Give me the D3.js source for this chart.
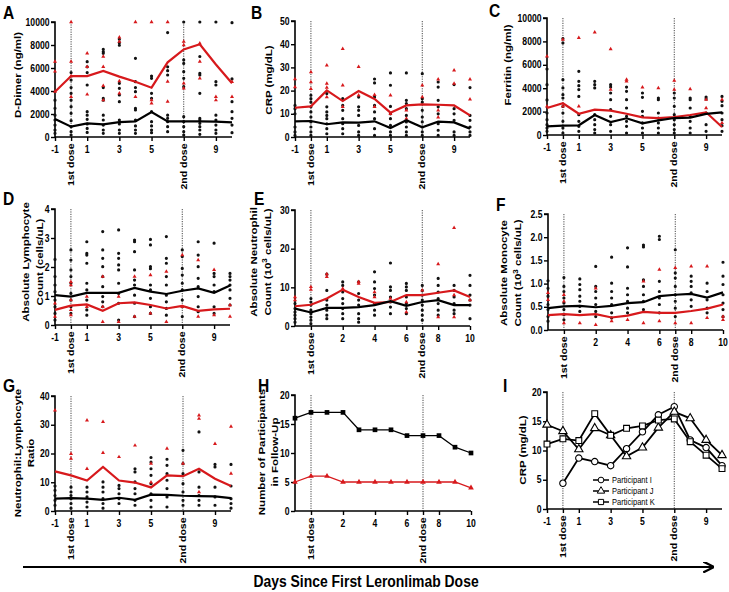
<!DOCTYPE html>
<html><head><meta charset="utf-8">
<script src="https://cdn.jsdelivr.net/npm/d3@7"></script>
<style>
body{margin:0;background:#fff;}
svg{display:block;font-family:"Liberation Sans",Arial,sans-serif;}
</style></head><body>
<svg id="chart" width="729" height="592"></svg>
<script>
const days = [-1,0,1,2,3,4,5,6,7,8,9,10];
const ticksOdd = [-1,0,1,3,5,7,9];
const tickLabelsOdd = ["-1","1st dose","1","3","5","2nd dose","9"];
const ticksEven = [0,2,4,6,7,8,10];
const tickLabelsEven = ["1st dose","2","4","6","2nd dose","8","10"];

// A: D-Dimer
const aBlackMean = [1570,900,1190,1100,1300,1360,2170,1360,1360,1360,1330,1280];
const aRedMean = [3940,5300,5300,5740,5250,4800,4290,6490,7620,8060,6300,4670];
const aBlackPts = [
 [3200,2500,1900,1480,1040,610,320],
 [5600,4950,4300,3800,3200,2640,2060,1420,900,460,170],
 [6550,6100,5600,4520,2200,1900,1540,1130,750,400],
 [7630,7420,7280,4300,3360,3200,1900,1480,1040,610,320],
 [8500,8200,7980,4670,4230,3650,3070,1480,1130,610,320],
 [6840,4810,4300,3940,2500,2350,1480,960,610,320],
 [5300,5100,3800,3360,2200,1330,960,610,380],
 [9080,6100,5770,5390,1900,1620,1330,900,460],
 [10000,6700,6400,5680,5100,4380,1770,1330,900,460,170],
 [10000,7000,5540,5390,3800,1620,1480,1190,900,610,230],
 [10000,4810,4520,1900,1480,1040,610,320],
 [9940,5050,3070,2200,1620,1040,380]];
const aRedPts = [
 [6550,5700,3940],[10000,6550,5300,3500],[7280,6100,3700],[7000,6100,4440,3200],
 [8670,8300,4870,3800],[10000,3500],[10000,3200,2930],[10000,4810,3070],
 [8300,8000,4670,4230],[8150,6550,5100],[3500,3200],[3500,4800]];

// B: CRP
const bBlackMean = [6.75,6.9,5.5,6.3,6.2,6.75,3.9,7.2,4.2,6.6,6.3,3.6];
const bRedMean = [12.6,13.2,20.1,15.5,19.8,16.4,10.5,13.6,14.1,13.9,13.6,9.3];
const bBlackPts = [
 [13.6,12.2,10,4.3,2.2,0.7],
 [18,16.5,15,13,10.8,8.6,6.5,4.3,2.2,0.7],
 [18.7,13,10.8,9.3,7.9,5.7,3.6,1.4],
 [16.5,13.6,11.5,7.9,5.7,3.6,1.4],
 [17.2,13,11.5,9.3,5,2.2,0.7],
 [25,23.3,17.2,13.6,10.8,7.9,3.6,0.7],
 [27.6,22.3,13.2,10,7.9,5,2.2,0.7],
 [27.6,15.8,14.4,12.2,9.3,6.5,4.3,2.2,0.7],
 [27.3,16.5,15,11.5,8.6,6.5,4.3,2.2,0.7],
 [23.7,21.5,15.8,13,10,5.7,2.9,0.7],
 [22.6,12.2,10,7.2,2.2,0.7],
 [21.3,9.3,7.2,4.3,2.2,0.7]];
const bRedPts = [
 [25,21.5],[28,23.7,20.8],[30.9,23,21.3,17.2],[38,22.3,13],[30.2,18],[18.2,13],
 [18,10],[11.5,7.9],[22.3,17.2],[24.9,11.5,8.5],[28.7,23],[24.9,16.2]];

// C: Ferritin
const cBlackMean = [740,800,830,1710,1110,1430,1000,1250,1450,1480,1800,1940];
const cRedMean = [2310,2710,1820,2170,2080,1820,1510,1450,1540,1710,1940,680];
const cBlackPts = [
 [5640,4300,3000,1880,1310,880,600,310],
 [8240,7870,4730,4020,3450,3160,2450,1880,1170,600,170],
 [5440,4590,4220,3880,3300,1740,1170,740,310],
 [4590,4300,4020,1740,1310,880,460,170],
 [4300,4100,3590,3020,2170,1600,880,310],
 [4100,3730,3020,2310,1600,1170,740,170],
 [3590,3220,2020,1600,1030,600,170],
 [3160,3020,1880,1450,1030,600,170],
 [3590,3160,2450,1740,1310,880,460,170],
 [3160,3020,2310,1600,1170,600,170],
 [3250,3080,1880,880,310],
 [3300,2880,2510,1880,1310,800,310]];
const cRedPts = [
 [6730,2450],[8150,2450],[8300,2450],[8780],[7350,3880],[4730,4590],
 [4080],[4020],[4650,3880],[3930],[3020,2300],[3020,1030]];

// D: Lymphocyte
const dBlackMean = [1.03,0.98,1.11,1.11,1.11,1.28,1.15,1.07,1.18,1.26,1.11,1.36];
const dRedMean = [0.52,0.67,0.71,0.49,0.75,0.78,0.69,0.57,0.66,0.49,0.54,0.56];
const dBlackPts = [
 [2.26,1.67,1.38,1.15,0.86,0.63,0.4,0.17],
 [2.59,2.24,1.9,1.67,1.44,1.09,0.86,0.63,0.4],
 [2.87,2.47,2.41,2.13,1.44,1.21,0.86,0.52,0.34],
 [3.22,2.59,2.3,2.01,1.67,1.32,0.98,0.8,0.63],
 [3.28,2.47,2.3,2.07,1.9,1.44,1.09,0.75,0.17],
 [2.93,2.87,2.53,1.9,1.55,1.38,1.03,0.75,0.29],
 [2.95,2.76,2.01,1.94,1.38,1.21,0.92,0.63,0.4],
 [3.05,2.3,2.13,1.67,1.38,1.03,0.8,0.57,0.34],
 [2.59,2.36,1.95,1.72,1.44,1.21,0.86,0.63,0.29],
 [2.87,2.41,2.01,1.61,1.32,0.98,0.63,0.46],
 [2.82,1.78,1.67,1.38,1.15,0.63,0.4],
 [1.78,1.67,1.55,1.38,1.21,0.92,0.69]];
const dRedPts = [
 [0.75,0.29],[1.49,1.38,0.86,0.52,0.34],[0.98,0.63],[1.67,0.63,0.11],[0.98,0.11],[1.67,0.29],
 [1.72,0.4],[1.84,0.11],[2.41,0.63],[2.24,0.29],[1.9,0.34],[0.69,0.29]];

// E: Neutrophil
const eBlackMean = [4.5,3.5,4.7,4.7,4.9,5.4,6.4,5.2,6.2,6.7,5.4,5.4];
const eRedMean = [5.1,5.5,7.1,9.4,7.5,6.0,6.2,8.0,8.0,8.6,9.2,7.5];
const eBlackPts = [
 [5.8,4.5,3.6,2.8,1.9,1.0],
 [7.1,6.2,5.4,4.1,3.2,2.3,1.5,0.6],
 [13.4,9.2,6.7,5.4,4.1,2.8,1.9],
 [11.4,10.5,8.8,7.1,5.8,4.5,3.2,1.9],
 [11.4,8.4,6.7,5.4,3.2,1.9,1.0],
 [14,11.4,9.7,8,5.8,4.1,2.8],
 [16.3,10.1,9.2,7.5,6.2,4.9,3.2],
 [11,10.1,9.2,7.5,5.8,4.5,3.2],
 [10.5,9.2,8,6.7,5.4,4.1,2.8,1.5],
 [12.3,10.5,8.8,7.1,5.8,4.1,2.8],
 [10.5,9.2,7.5,5.8,4.1,3.2],
 [13.1,10.5,8,6.7,5.4,1.9]];
const eRedPts = [
 [7.5,6.7],[10.1,9.4],[13.4,12.7],[9.7],[11.4,11],[8.8,7.5],[7.1],[6.2,3.6],
 [9.2],[16,2.3],[25.4,8,2.3],[6.7]];

// F: Monocyte
const fBlackMean = [0.47,0.51,0.52,0.49,0.52,0.58,0.6,0.73,0.76,0.78,0.7,0.81];
const fRedMean = [0.32,0.34,0.32,0.34,0.27,0.31,0.39,0.37,0.37,0.41,0.46,0.55];
const fBlackPts = [
 [1.06,0.9,0.73,0.55,0.44,0.29,0.19],
 [1.13,0.94,0.83,0.69,0.58,0.44,0.33,0.22],
 [1.1,0.98,0.87,0.73,0.62,0.51,0.4],
 [1.37,0.94,0.83,0.69,0.55,0.4,0.29],
 [1.57,1.01,0.83,0.69,0.55,0.37,0.26],
 [1.77,1.36,0.9,0.76,0.62,0.47,0.37],
 [1.83,1.79,1.08,0.94,0.76,0.62,0.44],
 [2.02,1.95,1.05,0.83,0.69,0.55,0.37],
 [1.73,1.23,1.12,0.94,0.76,0.62,0.47,0.29],
 [1.16,1.05,0.94,0.8,0.65,0.51],
 [1.01,0.83,0.65,0.47,0.37],
 [1.46,1.16,0.98,0.76,0.58,0.44,0.29]];
const fRedPts = [
 [0.8,0.65],[0.76,0.62,0.15],[0.15],[0.9,0.11],[0.19],[0.22],[1.05,0.15],[1.3,0.19],
 [1.34,0.15],[1.37,0.15],[1.37,0.26],[0.29,0.22]];

// G: N:L ratio
const gBlackMean = [4.3,4.5,4.3,3.9,4.6,3.9,5.7,5.6,5.3,5.2,5.1,4.5];
const gRedMean = [13.8,12.4,10.6,15.3,10.6,9.9,8.2,12.4,12.1,14.7,11.2,8.7];
const gBlackPts = [
 [8.7,7.2,5.4,3.7,2.0],
 [8.3,6.6,5.4,4.3,2.6,1],
 [8.3,6.6,4.9,3.1,1.4],
 [10.1,8.3,6.6,4.3,2.6,1],
 [8.9,7.8,6,4.3,2.6],
 [14.7,13.6,10.1,7.8,6,3.7,2],
 [18.6,17,14.7,12.4,9.5,6,3.7,1.4],
 [18,15.9,13,10.7,7.8,4.9,1.4],
 [21.1,16.5,13,9.5,6.6,3.7,2],
 [27.5,13.6,8.3,5.4,3.7,2],
 [16.2,15.3,8.3,4.9,2],
 [16.2,8.7,4.3,2.6,1]];
const gRedPts = [
 [35],[19.9,18.2],[31.5,14.7],[31,20.2],[18.8],[22.8],[16.5,10],[21.7],
 [16.5],[33.3,32.1,6.6],[23.4],[29.4,13]];

// H: participants in follow-up
const hBlack = [16,17,17,17,14,14,14,13,13,13,11,10];
const hRed = [5,6,6,5,5,5,5,5,5,5,5,4];

// I: CRP per participant
const iDaysI = [0,1,2,3,4,5,6,7,8,9,10];
const iPartI = [4.4,8.7,8.1,7.4,10.3,13.2,16.1,17.5,11.8,10.5,7.4];
const iPartJ = [14.4,13.3,10.2,13.8,12.6,9.0,10.5,13.9,16.6,15.5,11.8,9.2];
const iPartK = [11.1,12.0,11.7,16.3,12.6,13.8,14.2,15.2,15.4,11.5,9.2,6.9];
const iLegend = ["Participant I","Participant J","Participant K"];

const RED = "#d7191c";
const SX = 0.82; // horizontal compression of the reference typography
const svg = d3.select("#chart");

function htext(g,x,y,str,size,anchor,weight){
  return g.append("text").attr("transform",`translate(${x},${y}) scale(${SX},1)`)
    .attr("text-anchor",anchor||"start").attr("font-size",size).attr("font-weight",weight||"bold").text(str);
}

function panel(o){
  const g = svg.append("g");
  const x = d3.scaleLinear().domain([-1,10]).range([o.x0,o.x1]);
  const y = d3.scaleLinear().domain([0,o.ymax]).range([o.y1,o.y0]);
  [0,7].forEach(d=>{
    g.append("line").attr("x1",x(d)).attr("x2",x(d)).attr("y1",o.y0).attr("y2",o.y1)
      .attr("stroke","#333").attr("stroke-width",0.9).attr("stroke-dasharray","1.2,1.2");
  });
  const ya = d3.axisLeft(y).tickValues(o.yticks).tickSize(4).tickFormat("");
  const yg = g.append("g").attr("transform",`translate(${o.x0},0)`).call(ya);
  const xa = d3.axisBottom(x).tickValues(o.xticks).tickSize(4).tickFormat("");
  const xg = g.append("g").attr("transform",`translate(0,${o.y1})`).call(xa);
  [yg,xg].forEach(a=>{
    a.select(".domain").attr("stroke","#000").attr("stroke-width",1.6);
    a.selectAll(".tick line").attr("stroke","#000").attr("stroke-width",1.4);
  });
  yg.select(".domain").attr("d",`M-4,${o.y0}H0V${o.y1}`);
  xg.select(".domain").attr("d",`M${o.x0},0H${o.x1}`);
  const yf = o.yfmt || d3.format("d");
  o.yticks.forEach(t=>{ htext(g,o.x0-5.5,y(t)+3.6,yf(t),10.5,"end"); });
  o.xticks.forEach((t,i)=>{
    const lab = o.xlabels[i];
    if(lab.indexOf("dose")>=0){
      g.append("text").attr("transform",`translate(${x(t)},${o.y1+6.5}) scale(${SX},1) rotate(-90)`)
        .attr("text-anchor","end").attr("dy","0.36em").attr("font-size",10.5).attr("font-weight","bold").text(lab);
    } else {
      htext(g,x(t),o.y1+15.5,lab,10.5,"middle");
    }
  });
  // title (rotated)
  const n = o.title.length;
  const t = g.append("text").attr("transform",`translate(${o.tx},${o.ty}) scale(${SX},1) rotate(-90)`)
    .attr("text-anchor","middle").attr("font-size",11.5).attr("font-weight","bold");
  o.title.forEach((line,i)=>{
    const off = (i - (n-1)/2)*o.tlh;
    const ts = t.append("tspan").attr("x",0).attr("y",off/SX).attr("dy","0.36em");
    if(Array.isArray(line)){
      line.forEach(p=>{ const s = ts.append("tspan").text(p.t); if(p.sup) s.attr("baseline-shift","super").attr("font-size",8); });
    } else ts.text(line);
  });
  htext(g,o.lx,o.ly,o.letter,19,"start");
  return {g,x,y};
}

function scatterPanel(o){
  const {g,x,y} = panel(o);
  const blk = d3.symbol().type(d3.symbolCircle).size(8);
  const tri = d3.symbol().type(d3.symbolTriangle).size(7);
  o.blackPts.forEach((arr,i)=>arr.forEach(v=>{
    g.append("path").attr("d",blk).attr("transform",`translate(${x(days[i])},${y(v)})`).attr("fill","#111");
  }));
  o.redPts.forEach((arr,i)=>arr.forEach(v=>{
    g.append("path").attr("d",tri).attr("transform",`translate(${x(days[i])},${y(v)})`).attr("fill",RED);
  }));
  const line = d3.line().x((d,i)=>x(days[i])).y(d=>y(d));
  g.append("path").datum(o.redMean).attr("d",line).attr("fill","none").attr("stroke",RED).attr("stroke-width",2.2);
  g.append("path").datum(o.blackMean).attr("d",line).attr("fill","none").attr("stroke","#000").attr("stroke-width",2.2);
}

scatterPanel({letter:"A",lx:3,ly:19,x0:55,x1:232,y0:22,y1:137,ymax:10000,yticks:[0,2000,4000,6000,8000,10000],
  xticks:ticksOdd,xlabels:tickLabelsOdd,title:["D-Dimer (ng/ml)"],tx:17.5,ty:75,tlh:13,
  blackPts:aBlackPts,redPts:aRedPts,blackMean:aBlackMean,redMean:aRedMean});
scatterPanel({letter:"B",lx:251,ly:19,x0:295,x1:470,y0:21,y1:137,ymax:50,yticks:[0,10,20,30,40,50],
  xticks:ticksOdd,xlabels:tickLabelsOdd,title:["CRP (mg/dL)"],tx:269,ty:80,tlh:13,
  blackPts:bBlackPts,redPts:bRedPts,blackMean:bBlackMean,redMean:bRedMean});
scatterPanel({letter:"C",lx:489,ly:17,x0:547,x1:722,y0:18,y1:135,ymax:10000,yticks:[0,2000,4000,6000,8000,10000],
  xticks:ticksOdd,xlabels:tickLabelsOdd,title:["Ferritin (ng/ml)"],tx:507.5,ty:65,tlh:13,
  blackPts:cBlackPts,redPts:cRedPts,blackMean:cBlackMean,redMean:cRedMean});
scatterPanel({letter:"D",lx:3,ly:205,x0:55,x1:230,y0:209,y1:325,ymax:4,yticks:[0,1,2,3,4],
  xticks:ticksOdd,xlabels:tickLabelsOdd,title:["Absolute Lymphocyte","Count (cells/uL)"],tx:33,ty:262,tlh:14,
  blackPts:dBlackPts,redPts:dRedPts,blackMean:dBlackMean,redMean:dRedMean});
scatterPanel({letter:"E",lx:254,ly:205,x0:295,x1:470,y0:210,y1:326,ymax:30,yticks:[0,10,20,30],
  xticks:ticksEven,xlabels:tickLabelsEven,title:["Absolute Neutrophil",[{t:"Count (10"},{t:"3",sup:true},{t:" cells/uL)"}]],tx:260.5,ty:262,tlh:14,
  blackPts:eBlackPts,redPts:eRedPts,blackMean:eBlackMean,redMean:eRedMean});
scatterPanel({letter:"F",lx:496,ly:211,x0:548,x1:723,y0:214,y1:330,ymax:2.5,yticks:[0,0.5,1,1.5,2,2.5],yfmt:d3.format(".1f"),
  xticks:ticksEven,xlabels:tickLabelsEven,title:["Absolute Monocyte",[{t:"Count (10"},{t:"3",sup:true},{t:" cells/uL)"}]],tx:511,ty:273,tlh:14,
  blackPts:fBlackPts,redPts:fRedPts,blackMean:fBlackMean,redMean:fRedMean});
scatterPanel({letter:"G",lx:3,ly:392,x0:55,x1:231,y0:396,y1:511,ymax:40,yticks:[0,10,20,30,40],
  xticks:ticksOdd,xlabels:tickLabelsOdd,title:["Neutrophil:Lymphocyte","Ratio"],tx:24,ty:453,tlh:13,
  blackPts:gBlackPts,redPts:gRedPts,blackMean:gBlackMean,redMean:gRedMean});

// H
(function(){
  const {g,x,y} = panel({letter:"H",lx:258,ly:392,x0:295,x1:471,y0:395,y1:511,ymax:20,yticks:[0,5,10,15,20],
    xticks:ticksEven,xlabels:tickLabelsEven,title:["Number of Participants","in Follow-Up"],tx:268,ty:452,tlh:13});
  const line = d3.line().x((d,i)=>x(days[i])).y(d=>y(d));
  g.append("path").datum(hRed).attr("d",line).attr("fill","none").attr("stroke",RED).attr("stroke-width",1.3);
  g.append("path").datum(hBlack).attr("d",line).attr("fill","none").attr("stroke","#000").attr("stroke-width",1.3);
  hBlack.forEach((v,i)=>g.append("path").attr("d",d3.symbol().type(d3.symbolSquare).size(22)).attr("transform",`translate(${x(days[i])},${y(v)})`).attr("fill","#000"));
  hRed.forEach((v,i)=>g.append("path").attr("d",d3.symbol().type(d3.symbolTriangle).size(14)).attr("transform",`translate(${x(days[i])},${y(v)})`).attr("fill",RED));
})();

// I
(function(){
  const {g,x,y} = panel({letter:"I",lx:503,ly:392,x0:547,x1:722,y0:392,y1:509,ymax:20,yticks:[0,5,10,15,20],
    xticks:ticksOdd,xlabels:tickLabelsOdd,title:["CRP (mg/dL)"],tx:522.5,ty:450,tlh:13});
  const series = [
    {d:iPartI, xs:iDaysI, sym:d3.symbolCircle, size:32},
    {d:iPartJ, xs:days, sym:d3.symbolTriangle, size:30},
    {d:iPartK, xs:days, sym:d3.symbolSquare, size:34}];
  series.forEach(s=>{
    const line = d3.line().x((d,i)=>x(s.xs[i])).y(d=>y(d));
    g.append("path").datum(s.d).attr("d",line).attr("fill","none").attr("stroke","#000").attr("stroke-width",1.8);
  });
  series.forEach(s=>{
    s.d.forEach((v,i)=>g.append("path").attr("d",d3.symbol().type(s.sym).size(s.size))
      .attr("transform",`translate(${x(s.xs[i])},${y(v)})`).attr("fill","#fff").attr("stroke","#000").attr("stroke-width",1.1));
  });
  iLegend.forEach((lab,i)=>{
    const ly = 480 + i*11;
    g.append("line").attr("x1",593).attr("x2",609).attr("y1",ly).attr("y2",ly).attr("stroke","#000").attr("stroke-width",1.5);
    g.append("path").attr("d",d3.symbol().type(series[i].sym).size(series[i].size*0.8)).attr("transform",`translate(601,${ly})`)
      .attr("fill","#fff").attr("stroke","#000").attr("stroke-width",1);
    htext(g,612,ly+3.3,lab,9.2,"start","normal");
  });
})();

// bottom arrow
svg.append("defs").append("marker").attr("id","arr").attr("viewBox","0 0 10 10").attr("refX",8).attr("refY",5)
  .attr("markerWidth",5).attr("markerHeight",5).attr("orient","auto")
  .append("path").attr("d","M0,0 L10,5 L0,10").attr("fill","none").attr("stroke","#000").attr("stroke-width",2);
svg.append("line").attr("x1",23).attr("x2",712).attr("y1",567).attr("y2",567).attr("stroke","#000").attr("stroke-width",2.2).attr("marker-end","url(#arr)");
htext(svg,366,587,"Days Since First Leronlimab Dose",17,"middle");
</script>
</body></html>
